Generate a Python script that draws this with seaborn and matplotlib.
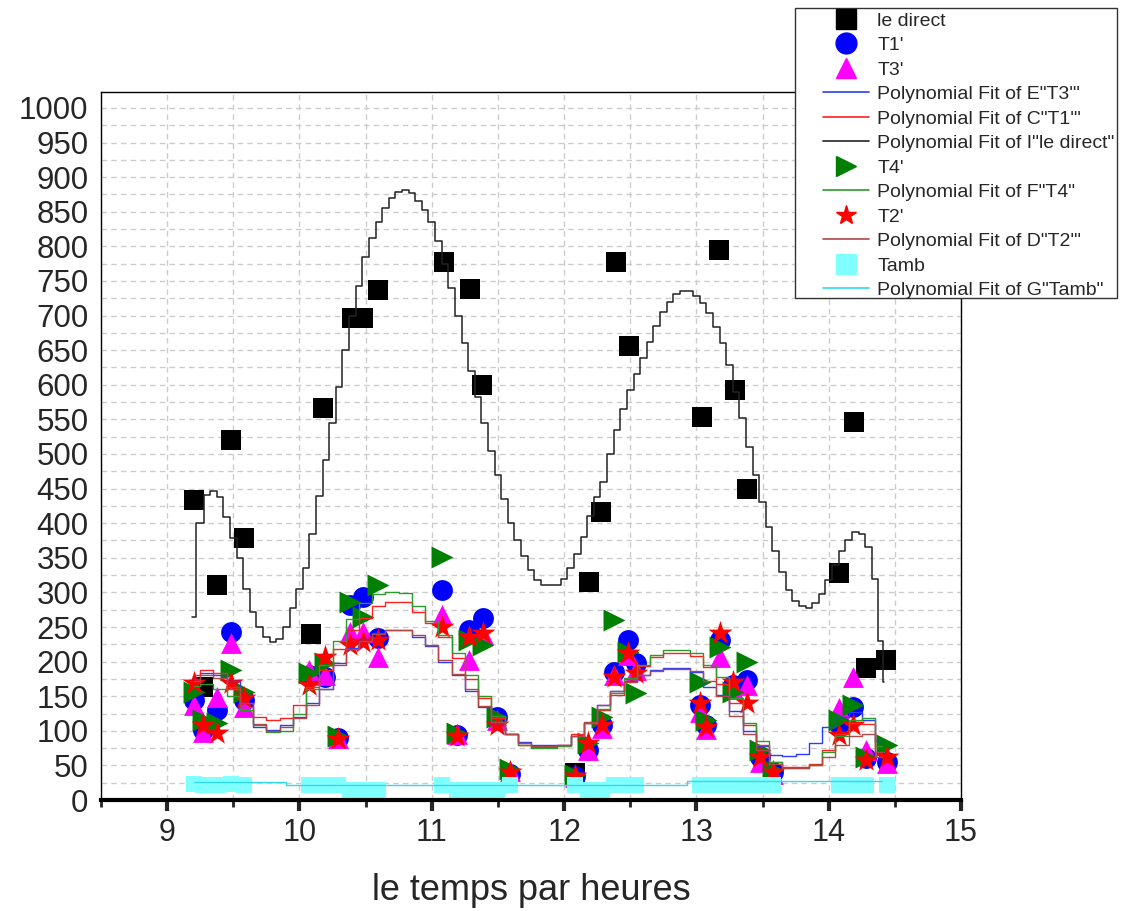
import matplotlib
matplotlib.use('Agg')
import matplotlib.pyplot as plt
import seaborn as sns
from matplotlib.lines import Line2D
from matplotlib.patches import Rectangle
from matplotlib.ticker import MultipleLocator

sns.set_style('white')
plt.rcParams['font.family'] = ['Liberation Sans', 'DejaVu Sans']

# measured points (time in hours)
heures = [9.2, 9.27, 9.38, 9.48, 9.58,
          10.07, 10.19, 10.29, 10.38, 10.48, 10.59,
          11.08, 11.19, 11.28, 11.39, 11.49, 11.59,
          12.08, 12.18, 12.29, 12.38, 12.48, 12.54,
          13.03, 13.07, 13.18, 13.28, 13.38, 13.48, 13.58,
          14.08, 14.18, 14.28, 14.44]
t1 = [145, 101, 130, 243, 145,
      181, 178, 90, 282, 293, 234,
      303, 94, 246, 263, 120, 38,
      35, 72, 108, 185, 231, 198,
      137, 108, 231, 166, 173, 62, 40,
      110, 134, 61, 55]
t3 = [137, 98, 149, 227, 134,
      188, 180, 90, 243, 243, 207,
      267, 96, 202, 240, 115, 42,
      33, 72, 104, 180, 210, 188,
      127, 103, 207, 160, 166, 55, 38,
      133, 178, 72, 53]
t4 = [156, 116, 111, 188, 156,
      183, 198, 92, 286, 265, 311,
      351, 97, 231, 224, 120, 45,
      36, 82, 120, 260, 214, 155,
      171, 116, 221, 156, 199, 72, 43,
      116, 137, 62, 80]
t2 = [169, 108, 97, 169, 147,
      166, 207, 88, 224, 229, 231,
      250, 93, 236, 241, 108, 40,
      35, 82, 108, 178, 212, 183,
      140, 105, 241, 171, 140, 62, 40,
      94, 108, 58, 62]
tamb = [23, 22, 22, 23, 22,
        22, 22, 22, 15, 15, 15,
        22, 15, 15, 15, 15, 22,
        22, 15, 15, 22, 22, 22,
        22, 22, 22, 22, 22, 22, 22,
        22, 22, 22, 22]

direct_x = [9.2, 9.27, 9.38, 9.48, 9.58, 10.09, 10.18, 10.40, 10.48, 10.59,
            11.09, 11.29, 11.38, 12.08, 12.19, 12.28, 12.39, 12.49,
            13.04, 13.17, 13.29, 13.38, 14.08, 14.19, 14.28, 14.43]
direct_y = [434, 163, 311, 520, 379, 240, 566, 697, 697, 737,
            777, 738, 600, 39, 315, 416, 777, 656,
            553, 795, 592, 450, 328, 546, 191, 202]

# polynomial fits
fit_x = [9.2, 9.3, 9.4, 9.5, 9.6, 9.7, 9.8, 9.9,
         10.0, 10.1, 10.2, 10.3, 10.4, 10.5, 10.6, 10.7, 10.8, 10.9,
         11.0, 11.1, 11.2, 11.3, 11.4, 11.5, 11.6, 11.7, 11.8, 11.9,
         12.0, 12.1, 12.2, 12.3, 12.4, 12.5, 12.6, 12.7, 12.8, 12.9,
         13.0, 13.1, 13.2, 13.3, 13.4, 13.5, 13.6, 13.7, 13.8, 13.9,
         14.0, 14.1, 14.2, 14.3, 14.4]
fit_t4 = [165, 168, 160, 150, 130, 108, 98, 100,
          125, 160, 195, 230, 262, 285, 297, 300, 299, 281,
          258, 238, 212, 180, 150, 121, 96, 80, 75, 75,
          78, 93, 112, 131, 155, 177, 195, 210, 217, 217,
          213, 195, 178, 148, 112, 85, 55, 46, 46, 50,
          70, 92, 115, 118, 78]
fit_t1 = [180, 188, 183, 163, 140, 120, 116, 118,
          138, 163, 188, 218, 245, 263, 280, 286, 286, 272,
          256, 235, 205, 175, 148, 118, 95, 80, 76, 76,
          80, 95, 112, 130, 152, 175, 193, 207, 212, 212,
          208, 192, 168, 140, 108, 80, 55, 48, 48, 52,
          72, 95, 112, 110, 62]
fit_t3 = [175, 183, 180, 172, 140, 105, 101, 108,
          120, 140, 160, 198, 220, 232, 241, 246, 246, 236,
          222, 200, 180, 158, 135, 112, 95, 84, 79, 79,
          80, 93, 112, 138, 158, 172, 180, 188, 191, 191,
          185, 163, 152, 128, 100, 78, 65, 63, 66, 82,
          105, 120, 127, 116, 85]
fit_t2 = [172, 180, 177, 160, 135, 110, 100, 105,
          118, 138, 160, 195, 218, 230, 240, 245, 246, 238,
          224, 203, 182, 160, 136, 113, 95, 83, 78, 78,
          80, 93, 113, 137, 157, 170, 180, 187, 190, 190,
          186, 172, 150, 122, 95, 72, 52, 47, 47, 50,
          62, 80, 92, 95, 70]

direct_fit_x = [9.19, 9.25, 9.30, 9.35, 9.40, 9.45,
                9.50, 9.55, 9.60, 9.65, 9.70, 9.75, 9.80, 9.85, 9.90, 9.95,
                10.00, 10.05, 10.10, 10.15, 10.20, 10.25, 10.30, 10.35, 10.40, 10.45,
                10.50, 10.55, 10.60, 10.65, 10.70, 10.75, 10.80, 10.85, 10.90, 10.95,
                11.00, 11.05, 11.10, 11.15, 11.20, 11.25, 11.30, 11.35, 11.40, 11.45,
                11.50, 11.55, 11.60, 11.65, 11.70, 11.75, 11.80, 11.85, 11.90, 11.95,
                12.00, 12.05, 12.10, 12.15, 12.20, 12.25, 12.30, 12.35, 12.40, 12.45,
                12.50, 12.55, 12.60, 12.65, 12.70, 12.75, 12.80, 12.85, 12.90, 12.95,
                13.00, 13.05, 13.10, 13.15, 13.20, 13.25, 13.30, 13.35, 13.40, 13.45,
                13.50, 13.55, 13.60, 13.65, 13.70, 13.75, 13.80, 13.85, 13.90, 13.95,
                14.00, 14.05, 14.10, 14.15, 14.20, 14.25, 14.30, 14.35, 14.40, 14.42]
direct_fit = [265, 400, 441, 447, 438, 409,
              378, 350, 305, 272, 250, 236, 228, 232, 250, 278,
              305, 335, 385, 440, 492, 545, 597, 650, 700, 742,
              785, 812, 835, 855, 870, 879, 881, 877, 866, 852,
              835, 808, 775, 740, 700, 660, 620, 583, 545, 505,
              470, 435, 400, 375, 352, 333, 318, 311, 311, 311,
              320, 335, 355, 380, 410, 438, 460, 500, 535, 565,
              592, 615, 638, 662, 685, 705, 720, 731, 736, 735,
              728, 718, 703, 683, 660, 628, 590, 552, 510, 470,
              430, 395, 360, 330, 303, 288, 280, 278, 284, 298,
              318, 340, 360, 376, 387, 384, 365, 320, 230, 170]

tamb_fit_x = [9.2, 9.9, 9.9, 12.93, 12.93, 14.4]
tamb_fit = [26, 26, 22, 22, 27, 27]

c_fit_t3 = '#2a3cff'
c_fit_t1 = '#ff2020'
c_fit_dir = '#222222'
c_fit_t4 = '#2e9a2e'
c_fit_t2 = '#b04848'
c_fit_tamb = '#30d8f0'

fig = plt.figure(figsize=(11.28, 9.11), dpi=100)
ax = fig.add_axes([0.0895, 0.1218, 0.7625, 0.7772])

ms = 225
sns.scatterplot(x=direct_x, y=direct_y, marker='s', s=ms, color='black', linewidth=0, ax=ax)
sns.scatterplot(x=heures, y=t1, marker='o', s=ms, color='#0000ff', linewidth=0, ax=ax)
sns.scatterplot(x=heures, y=t3, marker='^', s=ms, color='#ff00ff', linewidth=0, ax=ax)
sns.lineplot(x=fit_x, y=fit_t3, color=c_fit_t3, linewidth=1, drawstyle='steps-mid', estimator=None, ax=ax)
sns.lineplot(x=fit_x, y=fit_t1, color=c_fit_t1, linewidth=1, drawstyle='steps-mid', estimator=None, ax=ax)
sns.lineplot(x=direct_fit_x, y=direct_fit, color=c_fit_dir, linewidth=1.1, drawstyle='steps-mid', estimator=None, ax=ax)
sns.scatterplot(x=heures, y=t4, marker='>', s=250, color='#008000', linewidth=0, ax=ax)
sns.lineplot(x=fit_x, y=fit_t4, color=c_fit_t4, linewidth=1, drawstyle='steps-mid', estimator=None, ax=ax)
sns.scatterplot(x=heures, y=t2, marker='*', s=330, color='#ff0000', linewidth=0, ax=ax)
sns.lineplot(x=fit_x, y=fit_t2, color=c_fit_t2, linewidth=1, drawstyle='steps-mid', estimator=None, ax=ax)
sns.scatterplot(x=heures, y=tamb, marker='s', s=140, color='#80ffff', linewidth=0, ax=ax)
sns.lineplot(x=tamb_fit_x, y=tamb_fit, color=c_fit_tamb, linewidth=1, estimator=None, sort=False, ax=ax)

ax.set_xlim(8.5, 15)
ax.set_ylim(0, 1023)
ax.set_xticks([9, 10, 11, 12, 13, 14, 15])
ax.xaxis.set_minor_locator(MultipleLocator(0.5))
ax.set_yticks(range(0, 1001, 50))
ax.yaxis.set_minor_locator(MultipleLocator(25))
ax.grid(which='both', color='#cccccc', linestyle=(0, (4, 3)), linewidth=1)
ax.set_axisbelow(True)

for side in ['top', 'right', 'left']:
    ax.spines[side].set_linewidth(1)
    ax.spines[side].set_color('black')
ax.spines['bottom'].set_linewidth(3)
ax.spines['bottom'].set_color('black')

ax.tick_params(axis='x', which='major', direction='out', length=8, width=3, labelsize=22, pad=5, bottom=True)
ax.tick_params(axis='x', which='minor', direction='out', length=5, width=2, bottom=True)
ax.tick_params(axis='y', which='major', length=0, labelsize=22.5, pad=9)
ax.tick_params(axis='y', which='minor', length=0)

ax.set_xlabel('le temps par heures', fontsize=26, labelpad=18)
ax.set_ylabel('')

# legend box drawn as a figure patch, entries placed on top of it
box = Rectangle((795 / 1128, 1 - 298 / 911), 322 / 1128, 290 / 911,
                transform=fig.transFigure, facecolor='white', edgecolor='#333333',
                linewidth=1, zorder=5)
fig.patches.append(box)

handles = [
    Line2D([], [], marker='s', color='black', linestyle='none', markersize=15),
    Line2D([], [], marker='o', color='#0000ff', linestyle='none', markersize=15),
    Line2D([], [], marker='^', color='#ff00ff', linestyle='none', markersize=15),
    Line2D([], [], color=c_fit_t3, linewidth=1.2),
    Line2D([], [], color=c_fit_t1, linewidth=1.2),
    Line2D([], [], color=c_fit_dir, linewidth=1.2),
    Line2D([], [], marker='>', color='#008000', linestyle='none', markersize=15),
    Line2D([], [], color=c_fit_t4, linewidth=1.2),
    Line2D([], [], marker='*', color='#ff0000', linestyle='none', markersize=15),
    Line2D([], [], color=c_fit_t2, linewidth=1.2),
    Line2D([], [], marker='s', color='#80ffff', linestyle='none', markersize=15),
    Line2D([], [], color=c_fit_tamb, linewidth=1.2),
]
labels = ['le direct', "T1'", "T3'",
          'Polynomial Fit of E"T3\'"', 'Polynomial Fit of C"T1\'"',
          'Polynomial Fit of I"le direct"', "T4'", 'Polynomial Fit of F"T4"',
          "T2'", 'Polynomial Fit of D"T2\'"', 'Tamb', 'Polynomial Fit of G"Tamb"']
leg = fig.legend(handles, labels, loc='upper left', bbox_to_anchor=(823 / 1128, 1 - 12 / 911),
                 fontsize=14, frameon=False, handlelength=2.35, handletextpad=0.45,
                 labelspacing=0.355, borderpad=0, borderaxespad=0)
leg.set_zorder(6)

fig.savefig('out.png', dpi=100)
